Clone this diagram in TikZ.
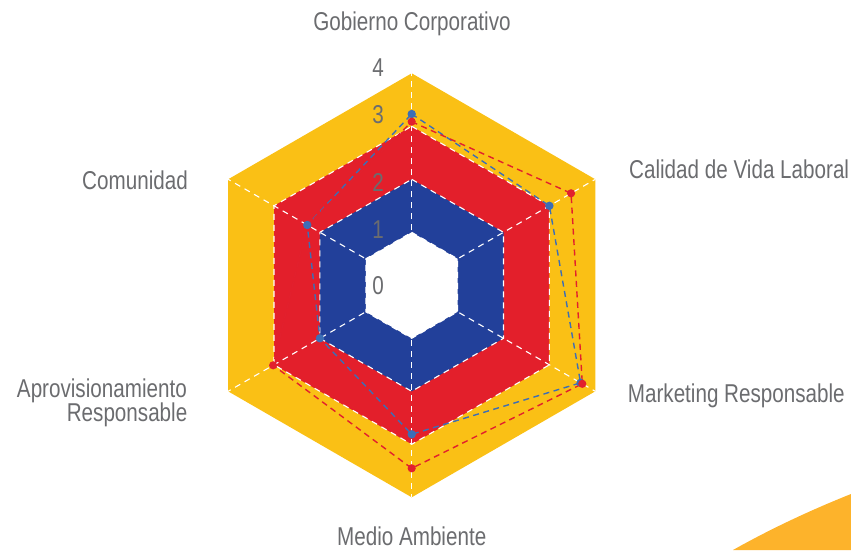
\documentclass[tikz,border=0pt]{standalone}
\usepackage{fontspec}
\newfontfamily\labfont[FakeStretch=0.8]{Liberation Sans}
\definecolor{hexyellow}{HTML}{FAC015}
\definecolor{hexred}{HTML}{E31F2B}
\definecolor{hexblue}{HTML}{22409A}
\definecolor{serred}{HTML}{E2202D}
\definecolor{serblue}{HTML}{3C6EB6}
\definecolor{labgray}{HTML}{6B6C6F}
\definecolor{cornerorange}{HTML}{FDB32B}
\newcommand\hexring[1]{(90:#1) -- (30:#1) -- (-30:#1) -- (-90:#1) -- (210:#1) -- (150:#1) -- cycle}
\begin{document}
\begin{tikzpicture}[x=1pt,y=1pt,
  lab/.style={font=\labfont\fontsize{25.8}{22}\selectfont, text=labgray, inner sep=0pt},
  gridline/.style={white, line width=1.1pt, dash pattern=on 6pt off 5pt},
  redser/.style={serred, line width=1.4pt, dash pattern=on 6pt off 4.5pt},
  blueser/.style={serblue, line width=1.4pt, dash pattern=on 6pt off 4.5pt},
  reddot/.style={fill=serred},
  bluedot/.style={fill=serblue}]
\useasboundingbox (-411.7,-264.7) rectangle (439.3,285.3);
% corner decoration
\fill[cornerorange] (321.3,-264.7) .. controls (359,-243.5) and (398.5,-225) .. (439.3,-208.7) -- (439.3,-264.7) -- cycle;
% hexagon bands
\fill[hexyellow] \hexring{212};
\fill[hexred] \hexring{159};
\fill[hexblue] \hexring{106};
\fill[white] \hexring{53};
% grid
\foreach \r in {53,106,159} \draw[gridline] \hexring{\r};
\foreach \a in {90,30,-30,-90,210,150} \draw[gridline] (0,0) -- (\a:212);
% scale labels
\node[lab] (s0) at (-33.7,-0.7) {0};
\node[lab] (s1) at (-33.7,55.3) {1};
\node[lab] (s2) at (-33.7,103.3) {2};
\node[lab] (s3) at (-33.7,170.3) {3};
\node[lab] (s4) at (-33.7,217.3) {4};
% series coordinates
\coordinate (rG) at (90:163.6);
\coordinate (rC) at (30:184);
\coordinate (rM) at (-30:197);
\coordinate (rMA) at (-90:183);
\coordinate (rA) at (210:160);
\coordinate (rCo) at (150:120.6);
\coordinate (bG) at (90:171.3);
\coordinate (bC) at (30:159);
\coordinate (bM) at (-30:195);
\coordinate (bMA) at (-90:149);
\coordinate (bA) at (210:106);
\coordinate (bCo) at (150:120.6);
\draw[blueser] (bG) -- (bC) -- (bM) -- (bMA) -- (bA) -- (bCo) -- cycle;
\draw[redser] (rG) -- (rC) -- (rM) -- (rMA) -- (rA) -- (rCo) -- cycle;
\fill[reddot] (rCo) circle (4.1);
\foreach \p in {bG,bC,bM,bMA,bA,bCo} \fill[bluedot] (\p) circle (4.2);
\foreach \p in {rG,rC,rM,rMA,rA} \fill[reddot] (\p) circle (4.1);
% axis labels
\node[lab, anchor=base] (lG) at (0.3,255.3) {Gobierno Corporativo};
\node[lab, anchor=base west] (lC) at (217.3,107.3) {Calidad de Vida Laboral};
\node[lab, anchor=base west] (lM) at (216,-116.7) {Marketing Responsable};
\node[lab, anchor=base] (lMA) at (0,-259.8) {Medio Ambiente};
\node[lab, anchor=base east] (lA1) at (-224.7,-112.2) {Aprovisionamiento};
\node[lab, anchor=base east] (lA2) at (-224.2,-135.7) {Responsable};
\node[lab, anchor=base east] (lCo) at (-223.7,96.3) {Comunidad};
\end{tikzpicture}
\end{document}
